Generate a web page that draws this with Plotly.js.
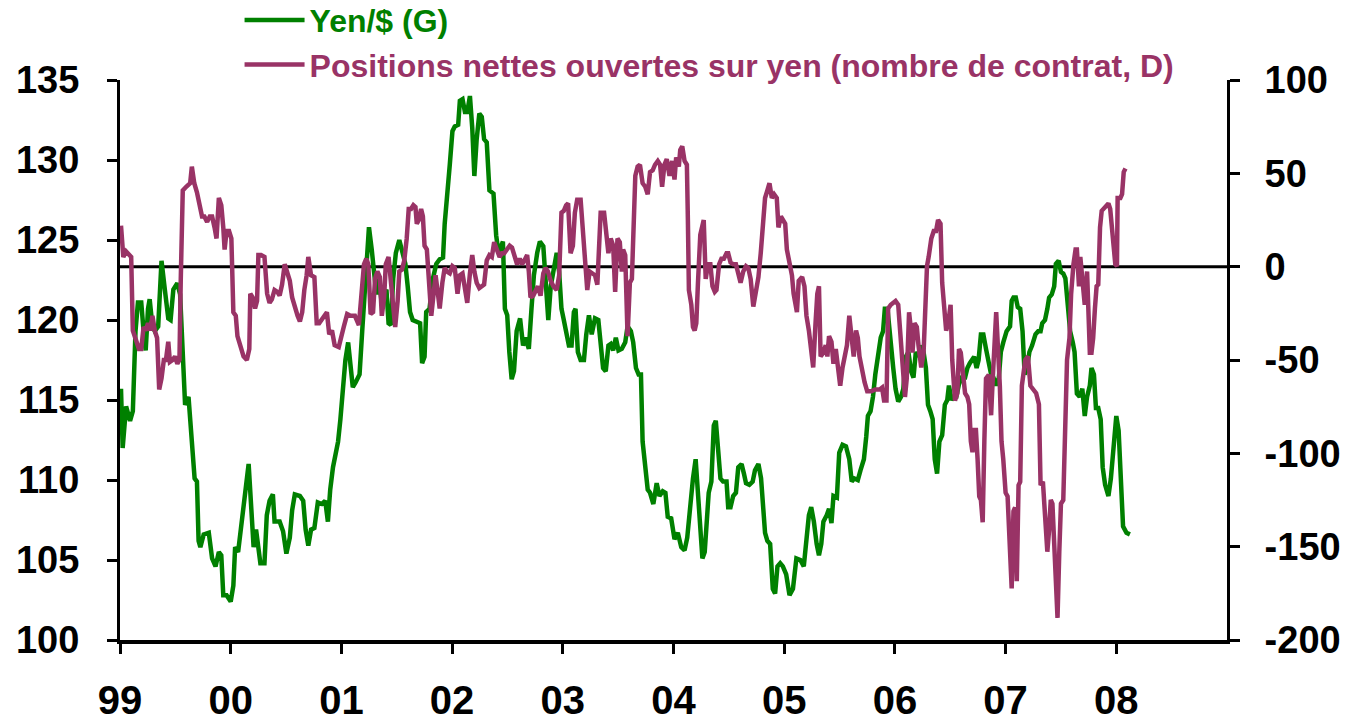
<!DOCTYPE html>
<html>
<head>
<meta charset="utf-8">
<script src="https://cdn.plot.ly/plotly-3.0.1.min.js"></script>
<style>
html,body{margin:0;padding:0;background:#fff;}
#chart{width:1350px;height:726px;}
</style>
</head>
<body>
<div id="chart"></div>
<script>
// ---- Data (decimal years) ----
const yenDates = [
1999.009,1999.024,1999.055,1999.091,1999.116,1999.140,1999.162,1999.192,1999.213,1999.232,
1999.253,1999.268,1999.293,1999.314,1999.345,1999.375,1999.405,1999.436,1999.457,1999.482,
1999.518,1999.543,1999.573,1999.588,1999.619,1999.649,1999.674,1999.695,1999.710,1999.726,
1999.756,1999.802,1999.832,1999.863,1999.893,1999.915,1999.933,1999.963,2000.000,2000.024,
2000.040,2000.067,2000.091,2000.122,2000.143,2000.162,2000.183,2000.207,2000.229,2000.250,
2000.268,2000.305,2000.326,2000.351,2000.381,2000.396,2000.442,2000.473,2000.503,2000.534,
2000.555,2000.579,2000.625,2000.655,2000.677,2000.701,2000.726,2000.756,2000.787,2000.823,
2000.854,2000.878,2000.899,2000.924,2000.945,2000.970,2000.991,
2001.036,2001.061,2001.082,2001.103,2001.128,2001.164,2001.188,2001.213,2001.234,2001.249,
2001.274,2001.295,2001.316,2001.340,2001.365,2001.386,2001.407,2001.426,2001.447,2001.468,
2001.492,2001.523,2001.547,2001.578,2001.599,2001.620,2001.644,2001.681,2001.711,2001.729,
2001.751,2001.766,2001.796,2001.827,2001.857,2001.888,2001.918,2001.933,2001.954,2001.979,
2002.003,2002.024,2002.055,2002.070,2002.094,2002.116,2002.137,2002.161,2002.182,2002.201,
2002.222,2002.246,2002.268,2002.289,2002.313,2002.337,2002.374,2002.398,2002.419,2002.441,
2002.459,2002.477,2002.498,2002.517,2002.538,2002.559,2002.583,2002.614,2002.641,2002.663,
2002.693,2002.717,2002.739,2002.769,2002.793,2002.824,2002.845,2002.869,2002.891,2002.921,
2002.945,2002.967,
2002.988,2003.009,2003.030,2003.055,2003.079,2003.100,2003.115,2003.136,2003.161,2003.191,
2003.212,2003.236,2003.261,2003.291,2003.321,2003.342,2003.364,2003.388,2003.412,2003.433,
2003.455,2003.479,2003.503,2003.533,2003.564,2003.585,2003.615,2003.636,2003.661,2003.685,
2003.706,2003.721,2003.745,2003.767,2003.788,2003.818,2003.848,2003.873,2003.903,2003.927,
2003.948,2003.979,2004.009,2004.039,2004.070,2004.100,2004.124,2004.152,2004.176,2004.200,
2004.221,2004.236,2004.261,2004.282,2004.297,2004.318,2004.342,2004.364,2004.382,2004.403,
2004.424,2004.448,2004.479,2004.494,2004.515,2004.539,2004.564,2004.585,2004.615,2004.636,
2004.655,2004.685,2004.715,2004.736,2004.767,2004.791,2004.812,2004.827,2004.848,2004.873,
2004.897,2004.918,2004.939,2004.964,2004.988,2005.018,2005.048,2005.079,
2005.110,2005.146,2005.177,2005.201,2005.223,2005.244,2005.268,2005.293,2005.314,2005.335,
2005.354,2005.384,2005.405,2005.427,2005.445,2005.476,2005.497,2005.527,2005.558,2005.588,
2005.610,2005.634,2005.665,2005.689,2005.720,2005.741,2005.756,2005.780,2005.802,2005.823,
2005.848,2005.872,2005.893,2005.909,2005.933,2005.954,2005.985,2006.006,2006.030,2006.055,
2006.076,2006.098,2006.122,2006.146,2006.168,2006.189,2006.213,2006.238,2006.259,2006.280,
2006.299,2006.320,2006.341,2006.360,2006.381,2006.402,2006.427,2006.451,2006.473,2006.488,
2006.512,2006.534,2006.555,2006.579,2006.604,2006.634,2006.655,2006.677,2006.695,2006.716,
2006.738,2006.756,2006.777,2006.799,2006.823,2006.848,2006.869,2006.890,2006.915,2006.939,
2006.957,2006.979,2007.009,2007.040,2007.055,2007.071,2007.092,2007.110,2007.132,2007.153,
2007.172,2007.193,2007.215,2007.239,2007.270,2007.294,2007.316,2007.331,2007.356,2007.377,
2007.393,2007.417,2007.439,2007.454,2007.479,2007.500,2007.521,2007.540,2007.561,2007.583,
2007.607,2007.623,2007.644,2007.669,2007.693,2007.715,2007.736,2007.761,2007.776,2007.798,
2007.816,2007.837,2007.859,2007.877,2007.899,2007.929,2007.951,2007.975,2008.000,2008.021,
2008.037,2008.061,2008.092,2008.123
];
const yenValues = [
115.7,112.0,114.6,113.7,114.3,119.3,121.1,121.1,119.3,118.1,
120.7,121.3,119.6,119.3,119.6,123.7,121.9,120.1,120.0,121.9,
122.3,121.6,117.0,114.7,115.2,112.4,110.1,109.9,106.2,105.8,
106.6,106.7,105.1,104.6,105.5,105.3,102.8,102.8,102.4,103.4,
105.8,105.5,107.1,109.0,109.9,111.0,108.5,105.8,106.9,105.8,
104.8,104.8,107.8,108.7,109.1,107.4,107.4,106.8,105.4,106.4,
108.1,109.1,109.0,108.7,106.9,105.9,106.9,107.0,108.6,108.5,
108.7,107.4,109.4,110.8,111.5,112.4,113.8,
117.5,118.6,117.0,115.8,116.1,116.6,119.3,122.1,124.4,125.8,
124.4,122.6,121.6,122.6,121.0,121.6,121.9,119.8,119.7,122.6,
124.2,125.0,124.4,123.5,122.1,120.5,120.0,119.9,119.8,117.3,
117.7,120.5,120.7,122.6,123.5,123.8,123.9,126.0,128.1,129.7,
131.8,132.1,132.2,133.7,133.8,133.0,133.0,134.0,132.0,129.0,
131.3,132.9,132.7,131.3,131.1,128.1,127.9,125.3,124.2,124.6,
124.9,120.7,120.3,118.0,116.3,116.8,119.3,120.1,118.4,118.9,
118.2,120.7,122.8,124.2,124.9,124.6,122.1,120.0,122.1,123.3,
124.2,123.0,
120.7,120.0,119.3,118.4,118.4,120.5,120.7,118.0,117.5,117.5,
119.1,120.3,119.1,120.1,120.0,118.2,117.0,116.8,118.4,118.5,
118.1,118.9,118.1,118.2,118.6,119.6,119.3,118.6,117.0,116.6,
116.6,112.4,110.6,109.4,109.2,108.5,109.8,109.0,109.3,109.2,
107.7,107.6,106.3,106.7,105.8,105.6,106.4,108.5,110.1,111.3,
109.2,106.7,105.1,105.5,107.4,109.2,109.9,113.4,113.7,111.7,
110.1,109.9,109.9,108.3,108.3,109.0,109.2,110.8,111.0,110.4,
109.8,109.7,109.9,110.6,111.0,110.1,108.5,106.7,106.2,106.0,
103.2,102.9,104.6,104.8,104.6,104.1,102.8,103.2,
105.1,105.0,104.6,106.2,107.8,108.3,107.4,106.0,105.3,106.0,
107.4,107.8,108.2,107.3,109.0,108.9,111.7,112.2,112.1,111.3,
109.9,110.1,110.0,110.6,111.3,112.7,114.0,114.3,115.2,116.6,
118.0,118.9,119.3,120.7,120.7,118.9,117.0,115.7,114.9,115.2,
115.7,117.7,118.0,116.8,116.4,118.0,117.7,118.4,118.0,117.0,
114.7,114.3,113.8,111.3,110.4,112.4,112.8,114.7,115.0,115.9,
115.0,115.2,115.2,116.0,116.4,116.4,117.0,117.3,117.5,117.7,
117.0,117.5,119.1,119.1,118.2,117.3,116.6,116.4,115.9,116.4,
118.0,118.6,119.3,119.6,121.2,121.4,121.4,120.8,120.7,119.3,
116.6,117.0,118.0,118.4,119.1,119.3,119.3,119.8,120.0,120.7,
121.4,121.6,122.1,123.5,123.7,123.0,122.9,122.6,120.7,119.3,
118.6,118.0,115.4,115.2,115.7,114.0,115.2,115.9,117.0,116.6,
114.5,114.5,113.8,110.8,109.7,109.0,110.1,112.4,114.0,113.1,
110.1,107.1,106.7,106.6
];

const posDates = [
1999.009,1999.030,1999.055,1999.079,1999.101,1999.116,1999.140,1999.171,1999.192,1999.213,
1999.232,1999.253,1999.274,1999.293,1999.314,1999.335,1999.354,1999.375,1999.396,1999.415,
1999.436,1999.451,1999.476,1999.497,1999.518,1999.537,1999.549,1999.567,1999.598,1999.619,
1999.634,1999.649,1999.671,1999.695,1999.720,1999.741,1999.762,1999.787,1999.811,1999.832,
1999.854,1999.872,1999.893,1999.915,1999.933,1999.945,1999.963,1999.985,2000.006,2000.024,
2000.046,2000.061,2000.091,2000.116,2000.146,2000.168,2000.177,2000.198,2000.220,2000.238,
2000.250,2000.274,2000.305,2000.329,2000.351,2000.372,2000.396,2000.421,2000.442,2000.464,
2000.488,2000.509,2000.534,2000.555,2000.579,2000.604,2000.625,2000.646,2000.665,2000.686,
2000.701,2000.726,2000.756,2000.777,2000.799,2000.823,2000.854,2000.869,2000.890,2000.915,
2000.939,2000.976,
2001.021,2001.052,2001.082,2001.122,2001.158,2001.182,2001.204,2001.225,2001.243,2001.264,
2001.286,2001.304,2001.325,2001.347,2001.365,2001.386,2001.401,2001.426,2001.447,2001.468,
2001.486,2001.508,2001.523,2001.547,2001.568,2001.590,2001.608,2001.629,2001.650,2001.669,
2001.681,2001.699,2001.720,2001.736,2001.751,2001.772,2001.790,2001.812,2001.833,2001.851,
2001.872,2001.888,2001.912,2001.933,2001.954,2001.979,2002.003,2002.024,2002.049,2002.070,
2002.094,2002.116,2002.137,2002.161,2002.182,2002.201,2002.222,2002.246,2002.268,2002.289,
2002.313,2002.337,2002.359,2002.380,2002.404,2002.429,2002.450,2002.471,2002.495,2002.520,
2002.541,2002.562,2002.587,2002.611,2002.632,2002.653,2002.678,2002.693,2002.708,2002.733,
2002.754,2002.775,2002.799,2002.824,2002.845,2002.866,2002.891,2002.915,2002.945,2002.967,
2002.988,2003.009,2003.030,2003.048,2003.070,2003.091,2003.109,2003.130,2003.161,2003.182,
2003.200,2003.221,2003.242,2003.267,2003.291,2003.312,2003.327,2003.342,2003.373,2003.394,
2003.412,2003.433,2003.455,2003.473,2003.494,2003.515,2003.533,2003.545,2003.564,2003.585,
2003.606,2003.624,2003.636,2003.655,2003.676,2003.697,2003.721,2003.745,2003.767,2003.788,
2003.812,2003.833,2003.858,2003.879,2003.897,2003.918,2003.939,2003.964,2003.988,2004.009,
2004.024,2004.048,2004.061,2004.079,2004.100,2004.121,2004.130,2004.139,2004.161,2004.176,
2004.191,2004.206,2004.221,2004.242,2004.273,2004.291,2004.312,2004.333,2004.352,2004.373,
2004.388,2004.412,2004.433,2004.455,2004.479,2004.494,2004.515,2004.539,2004.564,2004.585,
2004.606,2004.630,2004.655,2004.676,2004.697,2004.721,2004.745,2004.767,2004.788,2004.806,
2004.827,2004.848,2004.867,2004.888,2004.909,2004.933,2004.948,2004.970,2004.988,2005.009,
2005.024,2005.048,2005.070,2005.085,2005.115,
2005.131,2005.162,2005.183,2005.201,2005.223,2005.244,2005.262,2005.283,2005.299,2005.314,
2005.329,2005.354,2005.375,2005.390,2005.405,2005.427,2005.445,2005.466,2005.482,2005.506,
2005.527,2005.549,2005.567,2005.588,2005.610,2005.628,2005.649,2005.665,2005.680,2005.701,
2005.726,2005.750,2005.787,2005.823,2005.863,2005.884,2005.902,2005.924,2005.939,2005.963,
2005.985,2006.006,2006.030,2006.055,2006.076,2006.091,2006.107,2006.128,2006.146,2006.159,
2006.177,2006.198,2006.213,2006.238,2006.259,2006.274,2006.290,2006.305,2006.329,2006.351,
2006.372,2006.390,2006.412,2006.427,2006.442,2006.463,2006.482,2006.503,2006.518,2006.543,
2006.564,2006.579,2006.595,2006.610,2006.634,2006.655,2006.671,2006.686,2006.701,2006.716,
2006.732,2006.747,2006.762,2006.777,2006.793,2006.808,2006.823,2006.848,2006.869,2006.884,
2006.899,2006.915,
2006.948,2006.963,2006.979,2007.000,2007.018,2007.040,2007.055,2007.071,2007.086,2007.101,
2007.117,2007.132,2007.147,2007.178,2007.202,2007.224,2007.245,2007.276,2007.301,2007.316,
2007.337,2007.356,2007.377,2007.393,2007.408,2007.423,2007.439,2007.454,2007.469,2007.485,
2007.500,2007.521,2007.540,2007.555,2007.577,2007.592,2007.613,2007.632,2007.644,2007.663,
2007.675,2007.693,2007.715,2007.736,2007.745,2007.761,2007.776,2007.791,2007.807,2007.822,
2007.837,2007.853,2007.868,2007.899,2007.929,2007.945,2007.969,2007.991,2008.006,2008.012,
2008.037,2008.052,2008.067,2008.083
];
const posValues = [
22.0,5.2,8.2,6.2,5.2,-34.2,-38.2,-44.1,-44.1,-32.3,
-34.2,-30.3,-34.2,-26.3,-34.2,-38.2,-65.8,-59.9,-50.0,-50.0,
-40.2,-51.0,-50.0,-48.1,-52.0,-50.0,-6.6,40.8,42.8,43.7,
44.7,53.6,44.7,39.8,32.9,26.9,26.9,24.0,26.9,26.9,
21.0,15.1,36.8,32.9,21.0,9.2,19.1,19.1,15.1,-24.4,
-26.3,-37.2,-43.1,-48.1,-50.0,-44.1,-14.5,-16.5,-22.4,-18.4,
6.2,6.2,5.2,-14.5,-19.4,-17.5,-12.5,-13.5,-15.5,-9.6,
1.3,-3.6,-7.6,-16.5,-22.4,-26.3,-29.3,-24.4,-12.5,-4.6,
5.2,-4.6,-5.6,-30.3,-30.3,-28.3,-26.3,-24.4,-36.2,-34.2,
-42.1,-43.1,
-32.3,-25.4,-26.3,-26.3,-31.3,-14.5,1.3,4.3,1.3,-25.4,
-24.4,-6.6,-2.6,-5.6,-26.3,-16.5,1.3,5.2,-10.5,-22.4,
-32.3,-18.4,-2.6,-1.6,3.3,15.1,30.9,30.9,32.9,31.9,
23.0,25.0,30.9,26.9,11.2,9.2,-8.6,-26.3,-14.5,-4.6,
-14.5,-22.4,-8.6,-0.7,-2.6,-3.6,0.3,-0.7,-14.5,-4.6,
-3.6,-10.5,-19.4,-3.6,6.2,-2.6,-8.6,-11.5,-10.5,-9.6,
3.3,6.2,5.2,13.1,9.2,5.2,7.2,7.2,9.2,11.2,
10.2,6.2,1.3,4.3,1.3,3.3,6.2,-2.6,-16.5,-15.5,
-12.5,-10.5,-15.5,-3.6,-0.7,-2.6,-7.6,-10.5,-12.5,-4.6,
28.9,29.9,32.9,33.9,7.2,11.2,28.9,35.9,35.9,21.0,
3.3,-12.5,-2.6,-3.6,-4.6,-9.6,5.2,28.9,28.9,17.1,
7.2,15.1,11.2,-13.5,15.1,13.1,-2.6,9.2,6.2,-37.2,
-8.6,-6.6,21.0,48.7,53.6,54.6,44.7,42.8,38.8,50.7,
51.6,54.6,56.6,54.6,42.8,54.6,57.6,48.7,56.6,46.7,
58.5,53.6,62.5,64.5,56.6,54.6,25.0,-12.5,-20.4,-32.3,
-34.2,-30.3,-8.6,17.1,25.0,-6.6,1.3,1.3,-10.5,-13.5,
-12.5,1.3,4.3,4.3,7.2,7.2,2.3,1.3,1.3,-3.6,
-8.6,-2.6,0.3,-0.7,-6.6,-21.4,-12.5,-5.6,7.2,21.0,
36.8,40.8,44.7,36.8,38.8,36.8,21.0,26.9,25.0,23.0,
9.2,1.3,-4.6,-14.5,-24.4,
-7.6,-5.6,-10.5,-26.3,-34.2,-44.1,-54.0,-30.3,-14.5,-10.5,
-48.1,-46.1,-42.1,-48.1,-37.2,-40.2,-52.0,-44.1,-54.0,-63.8,
-54.0,-46.1,-42.1,-26.3,-36.2,-48.1,-34.2,-38.2,-48.1,-56.0,
-61.9,-66.8,-66.8,-65.8,-65.8,-64.8,-71.7,-71.7,-22.4,-20.4,
-19.4,-18.4,-20.4,-38.2,-52.0,-69.8,-59.9,-24.4,-34.2,-46.1,
-30.3,-32.3,-42.1,-54.0,-46.1,-16.5,0.3,5.2,15.1,19.1,
19.1,25.0,23.0,-8.6,-22.4,-34.2,-30.3,-20.4,-50.0,-71.7,
-67.8,-44.1,-46.1,-54.0,-67.8,-69.8,-73.7,-93.5,-99.4,-87.5,
-87.5,-103.3,-123.1,-125.0,-136.9,-93.5,-59.9,-57.9,-79.6,-59.9,
-38.2,-24.4,
-63.8,-93.5,-103.3,-121.1,-123.1,-158.6,-172.4,-131.0,-129.0,-168.5,
-117.1,-115.2,-63.8,-50.0,-48.1,-63.8,-65.8,-67.8,-73.7,-117.1,
-115.2,-133.0,-152.7,-140.8,-125.0,-127.0,-148.8,-176.4,-188.2,-152.7,
-127.0,-125.0,-83.6,-50.0,-38.2,-14.5,1.3,9.2,9.2,-10.5,
5.2,-6.6,-20.4,-2.6,-14.5,-46.1,-46.1,-38.2,-22.4,-10.5,
-9.6,21.0,29.9,31.9,33.9,30.9,13.1,1.3,0.3,36.8,
36.8,38.8,50.7,52.6
];

const yearTicks = [1999,2000,2001,2002,2003,2004,2005,2006,2007,2008];
const yearLabels = ['99','00','01','02','03','04','05','06','07','08'];
const leftTicks = [100,105,110,115,120,125,130,135];
const leftLabels = ['100','105','110','115','120','125','130','135'];
const rightTicks = [-200,-150,-100,-50,0,50,100];
const rightLabels = ['-200','-150','-100','-50','0','50','100'];
const seriesNames = ['Yen/$ (G)', 'Positions nettes ouvertes sur yen (nombre de contrat, D)'];

const GREEN = '#008000';
const PURPLE = '#993366';
const FONT = 'Liberation Sans, Arial, Helvetica, sans-serif';

const traces = [
  {x: yenDates, y: yenValues, type: 'scatter', mode: 'lines',
   name: '<span style="color:' + GREEN + '">' + seriesNames[0] + '</span>',
   line: {color: GREEN, width: 4.5}, yaxis: 'y'},
  {x: posDates, y: posValues, type: 'scatter', mode: 'lines',
   name: '<span style="color:' + PURPLE + '">' + seriesNames[1] + '</span>',
   line: {color: PURPLE, width: 4.5}, yaxis: 'y2'}
];

const axisCommon = {
  showgrid: false, zeroline: false, showline: true, linecolor: '#000', linewidth: 3,
  ticks: 'outside', ticklen: 10, tickwidth: 3, tickcolor: '#000',
  tickfont: {family: FONT, size: 38, color: '#000', weight: 'bold'}
};

const layout = {
  width: 1350, height: 726,
  margin: {l: 120, r: 123, t: 80, b: 86, autoexpand: false},
  paper_bgcolor: '#fff', plot_bgcolor: '#fff',
  showlegend: true,
  legend: {x: 0.108, y: 1.156, xanchor: 'left', yanchor: 'top', itemwidth: 60,
    font: {family: FONT, size: 32, weight: 'bold', color: '#000'}, bgcolor: 'rgba(0,0,0,0)',
    tracegroupgap: 0},
  xaxis: Object.assign({}, axisCommon, {
    range: [1999, 2009], tickmode: 'array', tickvals: yearTicks, ticktext: yearLabels,
    linewidth: 4, ticklabelstandoff: 12,
    tickfont: {family: FONT, size: 40, color: '#000', weight: 'bold'}
  }),
  yaxis: Object.assign({}, axisCommon, {
    range: [100, 135], tickmode: 'array', tickvals: leftTicks, ticktext: leftLabels,
    ticklabelstandoff: 20
  }),
  yaxis2: Object.assign({}, axisCommon, {
    range: [-200, 100], tickmode: 'array', tickvals: rightTicks, ticktext: rightLabels,
    overlaying: 'y', side: 'right', ticklabelstandoff: 17
  }),
  shapes: [
    {type: 'line', xref: 'paper', x0: 0, x1: 1, yref: 'y2', y0: 0, y1: 0,
     line: {color: '#000', width: 3}, layer: 'below'}
  ]
};

Plotly.newPlot('chart', traces, layout, {displayModeBar: false, staticPlot: true});
</script>
</body>
</html>
